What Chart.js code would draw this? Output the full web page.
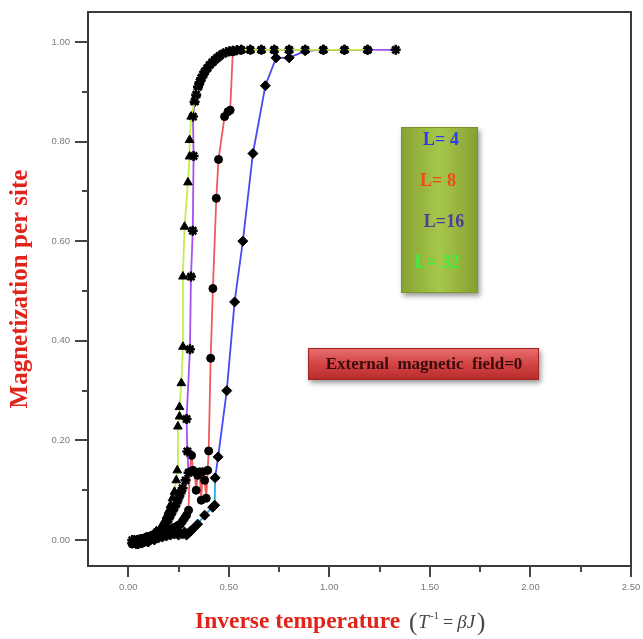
<!DOCTYPE html>
<html>
<head>
<meta charset="utf-8">
<script src="https://cdn.jsdelivr.net/npm/chart.js@4.4.0/dist/chart.umd.min.js"></script>
<style>
  html, body { margin: 0; padding: 0; background: #fff; }
  #wrap { width: 643px; height: 639px; }
</style>
</head>
<body>
<div id="wrap"><canvas id="myChart" width="643" height="639"></canvas></div>
<script>
// ----------------------------------------------------------------------DATA
const xTicks = [0, 0.5, 1, 1.5, 2, 2.5];
const xMinor = [0.25, 0.75, 1.25, 1.75, 2.25];
const yTicks = [0, 0.2, 0.4, 0.6, 0.8, 1];
const yMinor = [0.1, 0.3, 0.5, 0.7, 0.9];

// upper branch shared by L=16 and L=32
const arcX = [0.33, 0.338, 0.347, 0.355, 0.363, 0.372, 0.38, 0.392, 0.405, 0.418, 0.43, 0.442, 0.454, 0.47, 0.487, 0.503, 0.52, 0.54, 0.562, 0.607, 0.662, 0.726, 0.80, 0.88, 0.97, 1.075, 1.19];
const arcY = [0.88, 0.894, 0.91, 0.919, 0.927, 0.934, 0.94, 0.947, 0.954, 0.959, 0.964, 0.968, 0.972, 0.976, 0.979, 0.981, 0.982, 0.983, 0.984, 0.984, 0.984, 0.984, 0.984, 0.984, 0.984, 0.984, 0.984];

// L = 32
const l32X = [0.02, 0.03, 0.04, 0.05, 0.06, 0.07, 0.08, 0.09, 0.10, 0.11, 0.12, 0.13, 0.14, 0.15, 0.16, 0.17, 0.18, 0.19, 0.20, 0.21, 0.22, 0.23,
  0.239, 0.244, 0.247, 0.255, 0.255, 0.264, 0.272, 0.272, 0.28, 0.297, 0.305, 0.305, 0.313];
const l32Y = [-0.004, 0.0, -0.006, -0.002, 0.002, -0.002, 0.004, 0.006, 0.002, 0.008, 0.01, 0.014, 0.018, 0.016, 0.024, 0.03, 0.038, 0.048, 0.058, 0.07, 0.084, 0.097,
  0.12, 0.14, 0.228, 0.248, 0.267, 0.315, 0.388, 0.529, 0.629, 0.718, 0.77, 0.803, 0.85];

// L = 16
const l16X = [0.02, 0.03, 0.04, 0.05, 0.06, 0.07, 0.08, 0.09, 0.10, 0.11, 0.12, 0.13, 0.14, 0.15, 0.16, 0.17, 0.18, 0.19, 0.20, 0.21, 0.22, 0.23,
  0.24, 0.25, 0.26, 0.27, 0.285, 0.30, 0.294, 0.29, 0.307, 0.312, 0.321, 0.325, 0.322];
const l16Y = [0.0, -0.006, -0.002, -0.008, 0.0, 0.002, -0.004, 0.002, 0.006, 0.002, 0.008, 0.006, 0.012, 0.014, 0.018, 0.022, 0.028, 0.034, 0.042, 0.05, 0.058, 0.066,
  0.074, 0.084, 0.094, 0.104, 0.12, 0.135, 0.178, 0.243, 0.383, 0.529, 0.621, 0.771, 0.85];
const l16EndX = [1.33];
const l16EndY = [0.984];

// L = 8
const l8X = [0.02, 0.03, 0.04, 0.05, 0.06, 0.07, 0.08, 0.09, 0.10, 0.11, 0.12, 0.13, 0.14, 0.15, 0.16, 0.17, 0.18, 0.19, 0.20, 0.21, 0.22, 0.23, 0.24, 0.25, 0.26, 0.27, 0.28, 0.29, 0.30,
  0.305, 0.315, 0.322, 0.33, 0.338, 0.345, 0.355, 0.363, 0.37, 0.38, 0.388, 0.395, 0.40,
  0.41, 0.421, 0.438, 0.449, 0.479, 0.496, 0.507, 0.52,
  0.562, 0.607, 0.662, 0.726, 0.80, 0.88, 0.97, 1.075, 1.19];
const l8Y = [-0.008, -0.002, -0.004, 0.002, -0.006, 0.0, -0.002, 0.004, 0.0, 0.006, 0.002, 0.008, 0.004, 0.01, 0.008, 0.014, 0.012, 0.018, 0.016, 0.022, 0.02, 0.026, 0.024, 0.03, 0.032, 0.038, 0.044, 0.05, 0.06,
  0.137, 0.17, 0.14, 0.137, 0.10, 0.13, 0.137, 0.08, 0.137, 0.12, 0.084, 0.14, 0.179,
  0.365, 0.505, 0.686, 0.764, 0.85, 0.86, 0.863, 0.98,
  0.984, 0.984, 0.984, 0.984, 0.984, 0.984, 0.984, 0.984, 0.984];

// L = 4
const l4X = [0.02, 0.03, 0.04, 0.05, 0.06, 0.07, 0.08, 0.09, 0.10, 0.11, 0.12, 0.13, 0.14, 0.15, 0.16, 0.17, 0.18, 0.19, 0.20, 0.21, 0.22, 0.23, 0.24, 0.25, 0.26, 0.27, 0.28, 0.29, 0.30, 0.31, 0.32,
  0.345, 0.38, 0.42, 0.43, 0.432, 0.447, 0.49, 0.529, 0.57, 0.62, 0.682, 0.735, 0.80, 0.88, 0.97, 1.075, 1.19];
const l4Y = [-0.006, -0.002, -0.008, -0.004, 0.0, -0.006, -0.002, 0.002, -0.004, 0.0, 0.004, 0.0, 0.006, 0.004, 0.008, 0.006, 0.01, 0.008, 0.012, 0.01, 0.014, 0.012, 0.016, 0.01, 0.014, 0.012, 0.016, 0.01, 0.014, 0.018, 0.022,
  0.032, 0.05, 0.066, 0.07, 0.125, 0.167, 0.30, 0.478, 0.60, 0.776, 0.912, 0.968, 0.968, 0.982, 0.984, 0.984, 0.984];

const legendLabels = ["L= 4", "L= 8", "L=16", "L= 32"];

// ----------------------------------------------------------------------HELPERS
const toPoints = (xs, ys) => xs.map((x, i) => ({ x: x, y: ys[i] }));

function drawBox(ctx, x, y, w, h, grad, border) {
  ctx.save();
  ctx.shadowColor = "rgba(0,0,0,0.4)";
  ctx.shadowBlur = 5;
  ctx.shadowOffsetX = 2;
  ctx.shadowOffsetY = 3;
  ctx.fillStyle = grad;
  ctx.fillRect(x, y, w, h);
  ctx.restore();
  ctx.strokeStyle = border;
  ctx.lineWidth = 1;
  ctx.strokeRect(x + 0.5, y + 0.5, w - 1, h - 1);
}

// ----------------------------------------------------------------------PLUGIN
const decor = {
  id: "decor",
  afterDraw(chart) {
    const ctx = chart.ctx;
    const a = chart.chartArea;
    const sx = chart.scales.x;
    const sy = chart.scales.y;
    ctx.save();

    // frame
    ctx.strokeStyle = "#3a3a3a";
    ctx.lineWidth = 2;
    ctx.strokeRect(a.left, a.top, a.right - a.left, a.bottom - a.top);

    // tick marks (outside) and tick labels
    ctx.strokeStyle = "#444";
    ctx.lineWidth = 2;
    const tick = (x1, y1, x2, y2) => { ctx.beginPath(); ctx.moveTo(x1, y1); ctx.lineTo(x2, y2); ctx.stroke(); };
    yTicks.forEach(v => { const p = Math.round(sy.getPixelForValue(v)); tick(a.left - 13, p, a.left, p); });
    yMinor.forEach(v => { const p = Math.round(sy.getPixelForValue(v)); tick(a.left - 6, p, a.left, p); });
    xTicks.forEach(v => { const p = Math.round(sx.getPixelForValue(v)); tick(p, a.bottom, p, a.bottom + 11); });
    xMinor.forEach(v => { const p = Math.round(sx.getPixelForValue(v)); tick(p, a.bottom, p, a.bottom + 6); });

    ctx.fillStyle = "#7a7a7a";
    ctx.font = "9.5px 'Liberation Sans'";
    ctx.textBaseline = "middle";
    ctx.textAlign = "right";
    yTicks.forEach(v => ctx.fillText(v.toFixed(2), a.left - 18, sy.getPixelForValue(v)));
    ctx.textAlign = "center";
    xTicks.forEach(v => ctx.fillText(v.toFixed(2), sx.getPixelForValue(v), a.bottom + 21));

    // legend box
    const lg = ctx.createLinearGradient(401, 0, 478, 0);
    lg.addColorStop(0, "#86a332");
    lg.addColorStop(0.5, "#a7c74a");
    lg.addColorStop(1, "#84a030");
    drawBox(ctx, 401, 127, 77, 166, lg, "#7a942c");
    const legendColors = ["#2f3cf0", "#f04a1a", "#4b3e9a", "#3cf03c"];
    const legendPos = [[441, 140], [438, 181], [444, 222], [437, 263]];
    ctx.font = "bold 18px 'Liberation Serif'";
    legendLabels.forEach((t, i) => {
      ctx.fillStyle = legendColors[i];
      ctx.fillText(t, legendPos[i][0], legendPos[i][1]);
    });

    // field box
    const rg = ctx.createLinearGradient(0, 348, 0, 380);
    rg.addColorStop(0, "#e87070");
    rg.addColorStop(0.5, "#d44444");
    rg.addColorStop(1, "#b82a2a");
    drawBox(ctx, 308, 348, 231, 32, rg, "#a52222");
    ctx.fillStyle = "#3a0c0c";
    ctx.font = "bold 17px 'Liberation Serif'";
    ctx.fillText("External  magnetic  field=0", 424, 365);

    // y title
    ctx.save();
    ctx.translate(21, 289);
    ctx.rotate(-Math.PI / 2);
    ctx.fillStyle = "#e0241c";
    ctx.font = "bold 25px 'Liberation Serif'";
    ctx.fillText("Magnetization per site", 0, 0);
    ctx.restore();

    // x title
    ctx.textAlign = "left";
    ctx.textBaseline = "alphabetic";
    const base = 628;
    ctx.fillStyle = "#e0241c";
    ctx.font = "bold 23.5px 'Liberation Serif'";
    ctx.fillText("Inverse temperature", 195, base);
    let cx = 409;
    ctx.fillStyle = "#444";
    ctx.font = "25px 'Liberation Serif'";
    ctx.fillText("(", cx, base + 2); cx += ctx.measureText("(").width + 1;
    ctx.font = "italic 19px 'Liberation Serif'";
    ctx.fillText("T", cx, base); cx += ctx.measureText("T").width + 1;
    ctx.font = "11px 'Liberation Serif'";
    ctx.fillText("-1", cx, base - 9); cx += ctx.measureText("-1").width + 4;
    ctx.font = "18px 'Liberation Serif'";
    ctx.fillText("=", cx, base); cx += ctx.measureText("=").width + 4;
    ctx.font = "italic 19px 'Liberation Serif'";
    ctx.fillText("βJ", cx, base); cx += ctx.measureText("βJ").width + 2;
    ctx.font = "25px 'Liberation Serif'";
    ctx.fillText(")", cx, base + 2);

    ctx.restore();
  }
};

// ----------------------------------------------------------------------CHART
const common = {
  fill: false,
  tension: 0,
  borderWidth: 1.8,
  pointBackgroundColor: "#000",
  pointBorderColor: "#000",
  pointBorderWidth: 1,
};

const myChart = new Chart(document.getElementById("myChart"), {
  type: "line",
  data: {
    datasets: [
      Object.assign({}, common, {
        label: legendLabels[0],
        data: toPoints(l4X, l4Y),
        borderColor: "#4a4af2",
        segment: { borderColor: c => (c.p1.parsed.y < 0.14 ? "#27a9e1" : undefined) },
        pointStyle: "rectRot",
        pointRadius: 5,
        order: 3,
      }),
      Object.assign({}, common, {
        label: legendLabels[1],
        data: toPoints(l8X, l8Y),
        borderColor: "#f05a5a",
        pointStyle: "circle",
        pointRadius: 4,
        order: 2,
      }),
      Object.assign({}, common, {
        label: legendLabels[2],
        data: toPoints(l16X.concat(arcX, l16EndX), l16Y.concat(arcY, l16EndY)),
        borderColor: "#a450f2",
        pointStyle: "star",
        pointRadius: 5,
        pointBorderWidth: 2.5,
        order: 1,
      }),
      Object.assign({}, common, {
        label: legendLabels[3],
        data: toPoints(l32X.concat(arcX), l32Y.concat(arcY)),
        borderColor: "#c2ee4c",
        pointStyle: "triangle",
        pointRadius: 5,
        order: 0,
      }),
    ],
  },
  options: {
    responsive: false,
    animation: false,
    devicePixelRatio: 1,
    layout: { padding: { top: 12, right: 12, left: 0, bottom: 0 } },
    plugins: { legend: { display: false }, tooltip: { enabled: false } },
    scales: {
      x: {
        type: "linear",
        min: -0.2,
        max: 2.5,
        grid: { display: false, drawTicks: false },
        border: { display: false },
        ticks: { display: false },
        afterFit: s => { s.height = 73; },
      },
      y: {
        type: "linear",
        min: -0.052,
        max: 1.06,
        grid: { display: false, drawTicks: false },
        border: { display: false },
        ticks: { display: false },
        afterFit: s => { s.width = 88; },
      },
    },
  },
  plugins: [decor],
});
</script>
</body>
</html>
